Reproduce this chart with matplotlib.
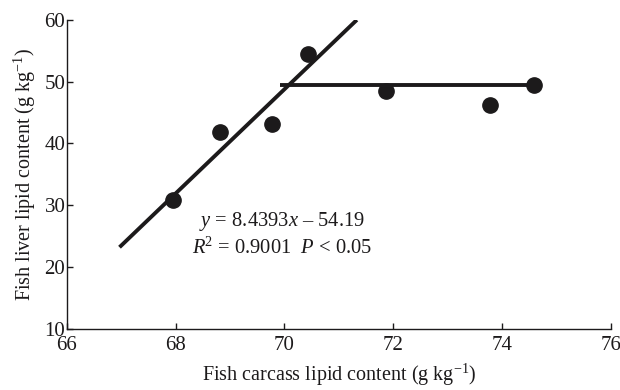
import numpy as np
import matplotlib
matplotlib.use('Agg')
import matplotlib.pyplot as plt

plt.rcParams['font.family'] = ['Liberation Serif', 'DejaVu Serif']
plt.rcParams['mathtext.fontset'] = 'custom'
plt.rcParams['mathtext.rm'] = 'Liberation Serif'
plt.rcParams['mathtext.it'] = 'Liberation Serif:italic'

# measured points
carcass = [67.95, 68.81, 69.77, 70.44, 71.86, 73.77, 74.59]
liver = [30.9, 41.8, 43.2, 54.4, 48.5, 46.2, 49.4]

# broken-line fit segments
rise_x = [66.97, 71.33]
rise_y = [23.2, 60.0]
plateau_x = [69.91, 74.59]
plateau_y = [49.5, 49.5]

xticks = [66, 68, 70, 72, 74, 76]
yticks = [10, 20, 30, 40, 50, 60]

ink = '#1c1a1b'

fig = plt.figure(figsize=(6.2, 3.9), dpi=100)
ax = fig.add_axes([0.1076, 0.157, 0.878, 0.792])

ax.plot(rise_x, rise_y, color=ink, lw=2.8, solid_capstyle='butt')
ax.plot(plateau_x, plateau_y, color=ink, lw=2.8, solid_capstyle='butt')
ax.plot(carcass, liver, 'o', color=ink, ms=11, clip_on=False)

ax.set_xlim(66, 76)
ax.set_ylim(10, 60)
ax.set_xticks(xticks)
ax.set_yticks(yticks)
ax.spines['top'].set_visible(False)
ax.spines['right'].set_visible(False)
for s in ('left', 'bottom'):
    ax.spines[s].set_color(ink)
    ax.spines[s].set_linewidth(1.0)
ax.tick_params(direction='in', length=4, width=1.0, color=ink,
               labelsize=15, labelcolor=ink)
ax.tick_params(axis='x', pad=5)
ax.tick_params(axis='y', pad=1)

ax.set_xlabel('Fish carcass lipid content (g kg$^{\u22121}$)', fontsize=14.5, color=ink, labelpad=5)
ax.set_ylabel('Fish liver lipid content (g kg$^{\u22121}$)', fontsize=14.5, color=ink, labelpad=5)

ax.text(69.96, 27.3, '$y$ = 8.4393$x$ \u2013 54.19', ha='center', va='center', fontsize=14.8, color=ink)
ax.text(69.96, 23.0, '$R$$^2$ = 0.9001  $P$ < 0.05', ha='center', va='center', fontsize=14.8, color=ink)

fig.savefig('out.png', dpi=100)
